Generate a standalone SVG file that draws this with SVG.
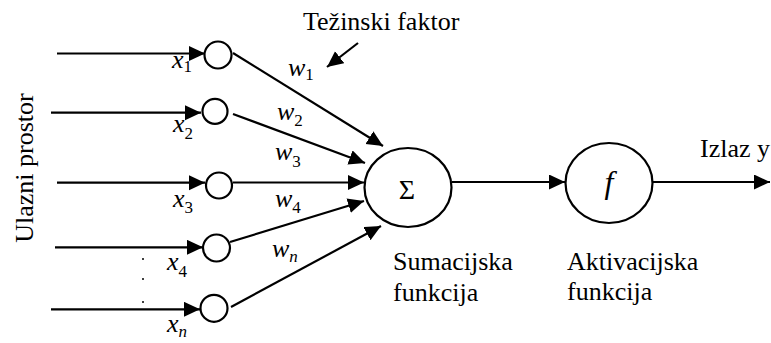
<svg xmlns="http://www.w3.org/2000/svg" width="771" height="343" viewBox="0 0 771 343">
<style>
text{font-family:'Liberation Serif','DejaVu Serif',serif;fill:#000}
.t{font-size:26px}
.m{font-style:italic;font-size:26px}
.s{font-size:17px}
.sn{font-size:17px;font-style:normal}
.node{fill:#fff;stroke:#000;stroke-width:2.2}
.conn line{stroke:#000;stroke-width:2.2}
</style>
<defs>
<marker id="ah" markerUnits="userSpaceOnUse" markerWidth="17" markerHeight="16" refX="16" refY="7.5" orient="auto">
<path d="M0,0 L16,7.5 L0,15 z" fill="#000"/>
</marker>
</defs>
<rect width="771" height="343" fill="#fff"/>
<text class="t" transform="translate(33,168) rotate(-90)" text-anchor="middle">Ulazni prostor</text>
<g class="conn">
<line x1="57" y1="53.5" x2="205" y2="53.5" marker-end="url(#ah)"/>
<line x1="51" y1="112.7" x2="201" y2="112.7" marker-end="url(#ah)"/>
<line x1="57" y1="182.7" x2="205" y2="182.7" marker-end="url(#ah)"/>
<line x1="55" y1="247.3" x2="203" y2="247.3" marker-end="url(#ah)"/>
<line x1="51" y1="309.3" x2="200" y2="309.3" marker-end="url(#ah)"/>
<line x1="233" y1="53" x2="383" y2="146" marker-end="url(#ah)"/>
<line x1="233" y1="114" x2="365" y2="163" marker-end="url(#ah)"/>
<line x1="233" y1="182.5" x2="364" y2="182.5" marker-end="url(#ah)"/>
<line x1="230" y1="242" x2="364" y2="201" marker-end="url(#ah)"/>
<line x1="231" y1="307" x2="381" y2="226" marker-end="url(#ah)"/>
<line x1="452" y1="182" x2="565" y2="182" marker-end="url(#ah)"/>
<line x1="653" y1="182" x2="770" y2="182" marker-end="url(#ah)"/>
<line x1="358" y1="43" x2="327" y2="67" marker-end="url(#ah)"/>
</g>
<g id="in1"><circle class="node" cx="218" cy="55" r="13.5"/></g>
<g id="in2"><circle class="node" cx="215" cy="111.3" r="12.5"/></g>
<g id="in3"><circle class="node" cx="219" cy="185.5" r="13"/></g>
<g id="in4"><circle class="node" cx="216.5" cy="248" r="13.5"/></g>
<g id="inn"><circle class="node" cx="214" cy="308.3" r="13.5"/></g>
<g id="sum"><ellipse class="node" cx="408" cy="187.5" rx="43.5" ry="39.5"/><text x="407" y="199" text-anchor="middle" font-size="28">Σ</text></g>
<g id="act"><ellipse class="node" cx="609" cy="183" rx="43.5" ry="40"/><text x="609" y="193" text-anchor="middle" font-size="32" font-style="italic">f</text></g>
<g id="labels">
<text class="m" x="172" y="68">x<tspan class="sn" dy="4">1</tspan></text>
<text class="m" x="173" y="132">x<tspan class="sn" dy="7">2</tspan></text>
<text class="m" x="173" y="207">x<tspan class="sn" dy="6">3</tspan></text>
<text class="m" x="167" y="270">x<tspan class="sn" dy="7">4</tspan></text>
<text class="m" x="167" y="332">x<tspan class="s" dy="5">n</tspan></text>
<text class="m" x="288" y="76">w<tspan class="sn" dy="4">1</tspan></text>
<text class="m" x="277" y="120">w<tspan class="sn" dy="6">2</tspan></text>
<text class="m" x="275" y="160">w<tspan class="sn" dy="7">3</tspan></text>
<text class="m" x="275" y="207">w<tspan class="sn" dy="6">4</tspan></text>
<text class="m" x="272" y="257">w<tspan class="s" dy="5">n</tspan></text>
<text class="t" x="303" y="30">Težinski faktor</text>
<text class="t" x="393" y="270">Sumacijska</text>
<text class="t" x="393" y="301">funkcija</text>
<text class="t" x="567" y="270">Aktivacijska</text>
<text class="t" x="567" y="300">funkcija</text>
<text class="t" x="700" y="157">Izlaz y</text>
<circle cx="143" cy="259" r="1" fill="#000"/>
<circle cx="143" cy="279" r="1" fill="#000"/>
<circle cx="143" cy="302" r="1" fill="#000"/>
</g>
</svg>
